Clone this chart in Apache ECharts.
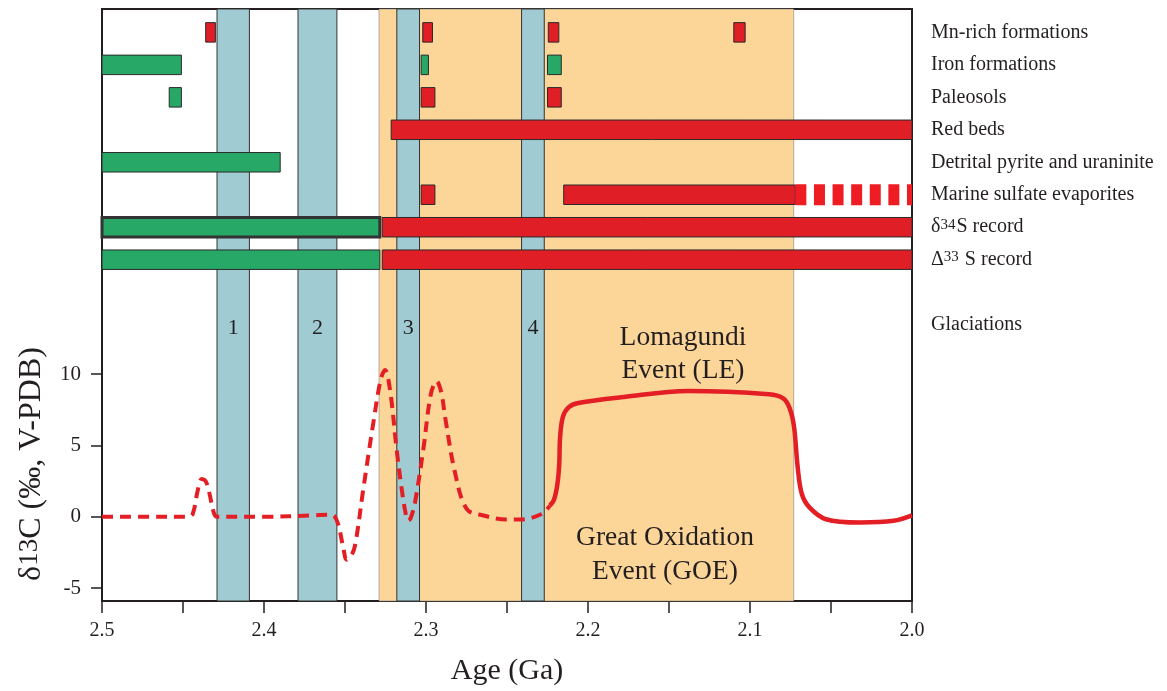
<!DOCTYPE html>
<html lang="en">
<head>
<meta charset="utf-8" />
<title>GOE proxies and d13C</title>
<style>
  html, body { margin: 0; padding: 0; background: #fff; }
  #main { width: 1167px; height: 691px; }
</style>
</head>
<body>
<div id="main"></div>
<script src="https://cdn.jsdelivr.net/npm/echarts@6/dist/echarts.min.js"></script>
<script>
// proxy rows, top to bottom (index 8 left empty)
var rowNames = ['Mn-rich formations', 'Iron formations', 'Paleosols', 'Red beds',
  'Detrital pyrite and uraninite', 'Marine sulfate evaporites', 'δ34S record', 'Δ33 S record', '', 'Glaciations'];
var rowTicks = [0, 1, 2, 3, 4, 5, 6, 7, 9];

// proxy bars: [row, older age (Ga), younger age (Ga)]
var proxyBars = [
  [0, 2.436, 2.430], [0, 2.302, 2.296], [0, 2.2245, 2.218], [0, 2.110, 2.103],
  [1, 2.5, 2.451], [1, 2.303, 2.2985], [1, 2.225, 2.2165],
  [2, 2.4585, 2.451], [2, 2.303, 2.2945], [2, 2.225, 2.2165],
  [3, 2.3215, 2.0],
  [4, 2.5, 2.390],
  [5, 2.303, 2.2945], [5, 2.215, 2.072],
  [6, 2.5, 2.3285], [6, 2.327, 2.0],
  [7, 2.5, 2.3285], [7, 2.327, 2.0]
];
// 'ox' = oxidising signal (red), 'anox' = anoxic signal (green)
var proxyKind = ['ox', 'ox', 'ox', 'ox', 'anox', 'anox', 'anox', 'anox', 'ox', 'ox',
  'ox', 'anox', 'ox', 'ox', 'anox', 'ox', 'anox', 'ox'];
// uncertain continuation of the sulfate evaporites
var sulfateDashed = [[2.072, 5], [2.0, 5]];

var glaciations = [[2.429, 2.409], [2.379, 2.355], [2.318, 2.304], [2.241, 2.227]];
var goe = [2.329, 2.073];

// d13C curve, [age, permil]
var d13cDashed = [
  [2.5, 0], [2.47, 0], [2.447, 0], [2.444, 0.2], [2.441, 1.8], [2.4385, 2.65], [2.436, 2.5],
  [2.434, 1.8], [2.431, 0.3], [2.429, 0], [2.40, 0], [2.37, 0.1], [2.359, 0.15], [2.3565, 0.05],
  [2.354, -0.6], [2.351, -2.2], [2.349, -3.0], [2.3465, -2.8], [2.3438, -2.0], [2.3387, 1.95],
  [2.3325, 6.6], [2.328, 9.6], [2.3253, 10.3], [2.3222, 8.9], [2.3181, 4.7], [2.315, 1.95],
  [2.3125, 0.2], [2.311, -0.26], [2.3095, -0.1], [2.3068, 1.0], [2.3017, 4.7], [2.297, 8.6],
  [2.2934, 9.5], [2.2905, 8.7], [2.2883, 7.06], [2.2821, 3.1], [2.2749, 0.56], [2.2646, 0.09],
  [2.2502, -0.19], [2.242, -0.19], [2.2286, 0.2], [2.2235, 0.79]
];
var d13cSolid = [
  [2.2235, 0.79], [2.221, 1.2], [2.219, 2.2], [2.2178, 3.6], [2.2172, 5.6], [2.2155, 7.0],
  [2.212, 7.67], [2.206, 7.98], [2.1778, 8.4], [2.1383, 8.82], [2.0883, 8.59], [2.0795, 8.3],
  [2.0755, 7.6], [2.0728, 6.3], [2.0705, 3.4], [2.068, 1.6], [2.0633, 0.66], [2.0531, -0.17],
  [2.0321, -0.4], [2.0114, -0.28], [2.0, 0.1]
];

var RED = '#DF1E26';
var GREEN = '#27A866';
var BLUE = '#A0CBD2';
var ORANGE = '#FCD598';
var INK = '#231f20';
var SERIF = '"Liberation Serif", "DejaVu Serif", serif';

function supText(s) {
  return s.replace(/(\d+)/, '{sup|$1}');
}

var chart = echarts.init(document.getElementById('main'));

var option = {
  animation: false,
  backgroundColor: '#fff',
  textStyle: { fontFamily: SERIF, color: INK },
  grid: {
    left: 102, right: 255, top: 9, bottom: 88,
    show: true, backgroundColor: '#fff', borderColor: INK, borderWidth: 2
  },
  xAxis: {
    type: 'value', min: 2.0, max: 2.5, interval: 0.05, inverse: true,
    name: 'Age (Ga)', nameLocation: 'middle', nameGap: 55,
    nameTextStyle: { fontFamily: SERIF, fontSize: 30, color: INK },
    axisLine: { onZero: false, lineStyle: { color: INK, width: 2 } },
    axisTick: { length: 12, lineStyle: { color: INK, width: 1.5 } },
    axisLabel: {
      margin: 20, fontFamily: SERIF, fontSize: 20, color: INK,
      formatter: function (v) {
        return Math.abs(v * 10 - Math.round(v * 10)) < 1e-6 ? v.toFixed(1) : '';
      }
    },
    splitLine: { show: false }
  },
  yAxis: [{
    type: 'value', min: -5.9, max: 35.6,
    axisLine: { show: true, onZero: false, lineStyle: { color: INK, width: 2 } },
    axisTick: { show: true, length: 11, customValues: [-5, 0, 5, 10], lineStyle: { color: INK, width: 1.5 } },
    axisLabel: { customValues: [-5, 0, 5, 10], margin: 21, fontFamily: SERIF, fontSize: 21, color: INK },
    splitLine: { show: false }
  }, {
    type: 'value', position: 'right', inverse: true, min: -0.72, max: 17.51,
    axisLine: { show: false }, axisTick: { show: false }, splitLine: { show: false },
    axisLabel: {
      customValues: rowTicks, margin: 19, align: 'left',
      fontFamily: SERIF, fontSize: 20, color: INK,
      formatter: function (v) { return supText(rowNames[Math.round(v)]); },
      rich: { sup: { fontFamily: SERIF, fontSize: 15, color: INK, verticalAlign: 'top', padding: [0, 1, 0, 0] } }
    }
  }],
  graphic: [{
    type: 'text', x: 32, y: 464, rotation: Math.PI / 2,
    style: {
      text: 'δ{sup|13}C (‰, V-PDB)', font: '32px ' + SERIF, fill: INK,
      align: 'center', verticalAlign: 'middle',
      rich: { sup: { font: '27px ' + SERIF, fill: INK, verticalAlign: 'top' } }
    }
  }, {
    type: 'text', x: 683, y: 354, z: 20,
    style: { text: 'Lomagundi\nEvent (LE)', font: '27.5px ' + SERIF, fill: INK, align: 'center', verticalAlign: 'middle', lineHeight: 33 }
  }, {
    type: 'text', x: 665, y: 555, z: 20,
    style: { text: 'Great Oxidation\nEvent (GOE)', font: '27.5px ' + SERIF, fill: INK, align: 'center', verticalAlign: 'middle', lineHeight: 34 }
  }],
  series: [{
    // GOE interval background
    type: 'line', data: [], z: 1, silent: true,
    markArea: {
      silent: true,
      itemStyle: { color: ORANGE, borderColor: 'rgba(120,120,120,0.55)', borderWidth: 1 },
      data: [[{ xAxis: goe[0] }, { xAxis: goe[1] }]]
    }
  }, {
    type: 'custom', name: 'proxies', yAxisIndex: 1, z: 2,
    encode: { x: [1, 2], y: 0 },
    data: proxyBars,
    renderItem: function (params, api) {
      var a = api.coord([api.value(1), api.value(0)]);
      var b = api.coord([api.value(2), api.value(0)]);
      var h = api.size([0, 0.6])[1];
      var kind = proxyKind[params.dataIndex];
      var thick = api.value(0) === 6 && kind === 'anox';
      return {
        type: 'rect',
        shape: { x: a[0], y: a[1] - h / 2, width: b[0] - a[0], height: h },
        style: { fill: kind === 'ox' ? RED : GREEN, stroke: thick ? '#333' : '#2a2a2a', lineWidth: thick ? 3 : 1 }
      };
    }
  }, {
    type: 'line', yAxisIndex: 1, z: 2, data: sulfateDashed, symbol: 'none',
    lineStyle: { color: '#EE1D23', width: 21, type: [11, 7.6], cap: 'butt' }
  }, {
    // glaciations
    type: 'line', data: [], z: 3, silent: true,
    markArea: {
      silent: true,
      itemStyle: { color: BLUE, borderColor: '#333', borderWidth: 1 },
      label: {
        show: true, position: ['50%', 320], align: 'center', verticalAlign: 'middle',
        fontFamily: SERIF, fontSize: 22, color: INK,
        formatter: function (p) { return String(p.dataIndex + 1); }
      },
      data: glaciations.map(function (g) { return [{ xAxis: g[0] }, { xAxis: g[1] }]; })
    }
  }, {
    type: 'line', z: 5, data: d13cDashed, symbol: 'none', smooth: 0.35,
    lineStyle: { color: '#E31E24', width: 4, type: [11, 7] }
  }, {
    type: 'line', z: 5, data: d13cSolid, symbol: 'none', smooth: 0.35,
    lineStyle: { color: '#E31E24', width: 4.5 }
  }]
};

chart.setOption(option);
window.onresize = function () { chart.resize(); };
</script>
</body>
</html>
